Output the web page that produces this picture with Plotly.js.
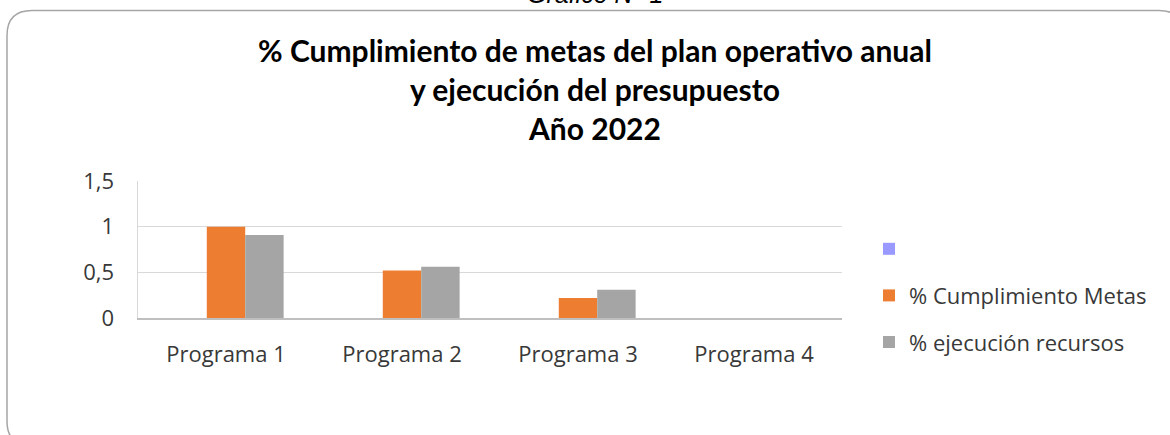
<!DOCTYPE html>
<html>
<head>
<meta charset="utf-8">
<script src="https://cdn.plot.ly/plotly-3.0.1.min.js"></script>
<style>
html,body{margin:0;padding:0;background:#fff;}
#chart{width:1170px;height:435px;}
</style>
</head>
<body>
<div id="chart"></div>
<script>
// ---- data ----
const categories = ["Programa 1", "Programa 2", "Programa 3", "Programa 4"];
const seriesBlank = [0, 0, 0, 0];
const cumplimientoMetas = [1.0, 0.52, 0.22, 0];
const ejecucionRecursos = [0.91, 0.56, 0.31, 0];
const seriesNames = [" ", "% Cumplimiento Metas", "% ejecución recursos"];
const yTickVals = [0, 0.5, 1, 1.5];
const titleText = "% Cumplimiento de metas del plan operativo anual<br>y ejecución del presupuesto<br>Año 2022";
const captionText = "Gráfico N° 1";

// ---- layout geometry (pixels) ----
const W = 1170, H = 435;
const M = {l: 138, r: W - 842, t: 181, b: H - 318};
const pw = W - M.l - M.r, ph = H - M.t - M.b;
const px = x => (x - M.l) / pw;
const py = y => (H - M.b - y) / ph;

function roundRect(L, T, R, B, r) {
  const p = (x, y) => px(x).toFixed(5) + "," + py(y).toFixed(5);
  return "M" + p(L, T + r) + " Q" + p(L, T) + " " + p(L + r, T) +
    " L" + p(R - r, T) + " Q" + p(R, T) + " " + p(R, T + r) +
    " L" + p(R, B - r) + " Q" + p(R, B) + " " + p(R - r, B) +
    " L" + p(L + r, B) + " Q" + p(L, B) + " " + p(L, B - r) + " Z";
}

const titleFont = "Lato, 'Noto Sans', sans-serif";
const font = "'Open Sans', 'Noto Sans', sans-serif";
const textColor = "#383838";
const colors = ["#9999FF", "#ED7D31", "#A5A5A5"];
const values = [seriesBlank, cumplimientoMetas, ejecucionRecursos];

const traces = values.map((v, i) => ({
  type: "bar",
  x: categories,
  y: v,
  name: seriesNames[i],
  legendgroup: "g" + i,
  marker: {color: colors[i], line: {width: 0}},
  hoverinfo: "x+y"
}));

const layout = {
  width: W, height: H,
  margin: M,
  paper_bgcolor: "#ffffff",
  plot_bgcolor: "#ffffff",
  separators: ",.",
  barmode: "group",
  bargap: 0.345,
  bargroupgap: 0,
  showlegend: true,
  font: {family: font, color: textColor, size: 22},
  title: {
    text: titleText,
    font: {family: titleFont, size: 30, color: "#000000", weight: "bold"},
    x: 595 / W, xanchor: "center",
    y: 1 - 62 / H, yanchor: "top"
  },
  xaxis: {
    type: "category",
    showgrid: false,
    zeroline: false,
    showline: true,
    linecolor: "#BFBFBF",
    linewidth: 1.5,
    ticks: "outside",
    ticklen: 16,
    tickcolor: "rgba(0,0,0,0)",
    tickfont: {family: font, size: 22, color: textColor}
  },
  yaxis: {
    range: [0, 1.5],
    tickvals: yTickVals,
    showgrid: true,
    gridcolor: "#D9D9D9",
    gridwidth: 1.5,
    zeroline: false,
    showline: true,
    linecolor: "#D9D9D9",
    linewidth: 1.5,
    ticks: "outside",
    ticklen: 18,
    tickcolor: "rgba(0,0,0,0)",
    tickfont: {family: font, size: 22, color: textColor}
  },
  legend: {
    x: px(869), xanchor: "left",
    y: py(228), yanchor: "top",
    traceorder: "grouped",
    tracegroupgap: 15,
    font: {family: font, size: 22, color: textColor},
    bgcolor: "rgba(0,0,0,0)"
  },
  shapes: [{
    type: "path",
    xref: "paper", yref: "paper",
    path: roundRect(7, 10.5, 1184, 446, 25),
    line: {color: "#A6A6A6", width: 1.5},
    fillcolor: "rgba(0,0,0,0)",
    layer: "below"
  }],
  annotations: [{
    text: captionText,
    xref: "paper", yref: "paper",
    x: px(595), xanchor: "center",
    y: py(10), yanchor: "bottom",
    showarrow: false,
    font: {family: "'Liberation Sans', Arial, sans-serif", size: 25, color: "#000000", style: "italic"}
  }]
};

Plotly.newPlot("chart", traces, layout, {displayModeBar: false, staticPlot: true});
</script>
</body>
</html>
